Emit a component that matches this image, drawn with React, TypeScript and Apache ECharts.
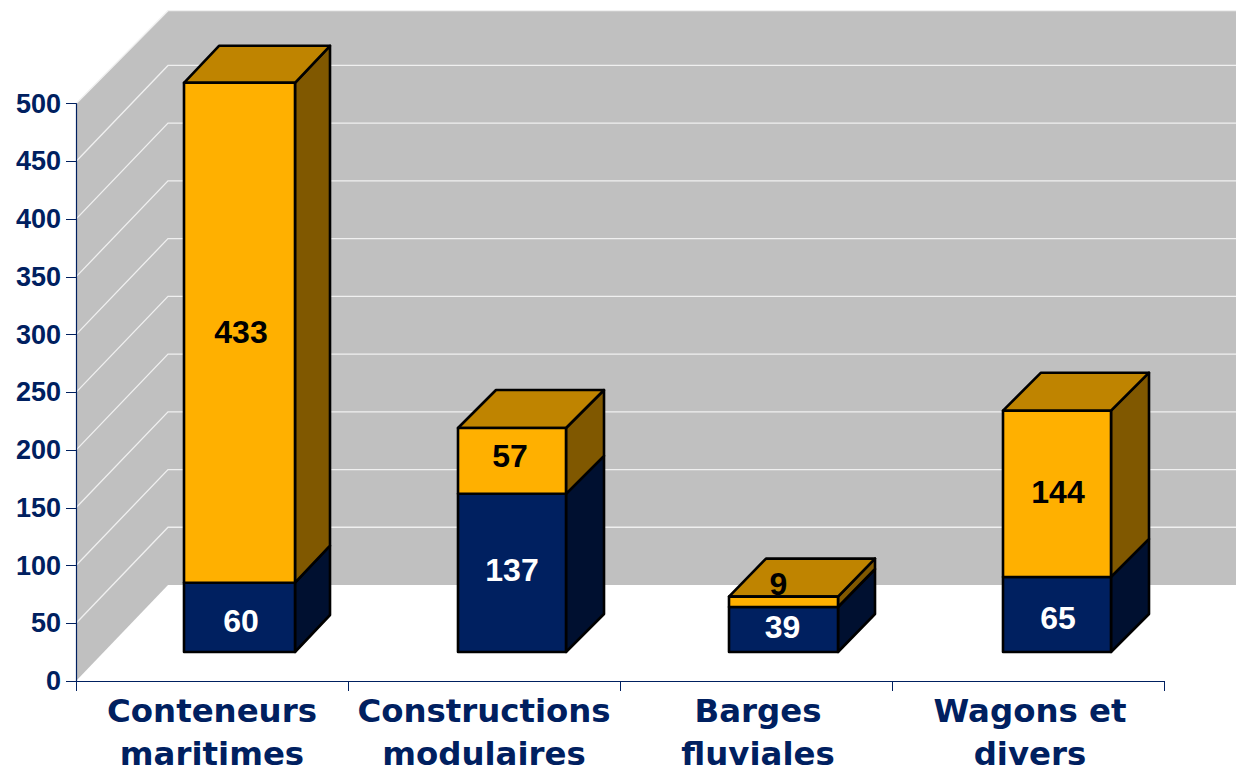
import React, { useEffect, useRef } from "react";
import * as echarts from "echarts";

const categories = ["Conteneurs\nmaritimes", "Constructions\nmodulaires", "Barges\nfluviales", "Wagons et\ndivers"];
const lowerValues = [60, 137, 39, 65];
const upperValues = [433, 57, 9, 144];
const gridValues = [50, 100, 150, 200, 250, 300, 350, 400, 450, 500];

const NAVY = "#002060";
const WALL = "#c0c0c0";
const GRID_LINE = "#f0f0f0";

const lowerFaces = { front: "#002060", side: "#001030", top: "#001848" };
const upperFaces = { front: "#ffb000", side: "#805800", top: "#bf8400" };

// drawing tweaks, in pixels, per category
const barLeft = [-28, -26, -27, -25];
const barRight = [83, 82, 82, 83];
const depthX = [35, 38, 37, 38];
const depthY = [37, 38, 38, 38];
const lowerNudge = [[1.5, 4], [0, -3], [-1, -2], [1, 4]];
const upperNudge = [[1.5, -1], [-2, -5], [-5, -18], [1, -2]];
const shiftedLabels = ["Barges\nfluviales", "Wagons et\ndivers"];

const FLOOR_LIFT = 29;
const WALL_DX = 92;
const WALL_DY = 96;
const WALL_TOP = 10.7;

function wallY(frontY: number) {
  return Math.max(WALL_TOP, frontY - WALL_DY);
}

function makeBarRenderer(faces: { front: string; side: string; top: string }, nudge: number[][], labelColor: string, withTop: boolean) {
  return (_params: any, api: any) => {
    const i = api.value(0);
    const from = api.value(1);
    const to = api.value(2);
    const cx = api.coord([i, 0])[0];
    const yFrom = api.coord([i, from])[1] - FLOOR_LIFT;
    const yTo = api.coord([i, to])[1] - FLOOR_LIFT;
    const l = cx + barLeft[i];
    const r = cx + barRight[i];
    const dx = depthX[i];
    const dy = depthY[i];
    const edge = { stroke: "#000", lineWidth: 2.6, lineJoin: "round" };
    const children: any[] = [
      { type: "polygon", shape: { points: [[r, yFrom], [r + dx, yFrom - dy], [r + dx, yTo - dy], [r, yTo]] }, style: { fill: faces.side, ...edge } },
    ];
    if (withTop) {
      children.push({ type: "polygon", shape: { points: [[l, yTo], [l + dx, yTo - dy], [r + dx, yTo - dy], [r, yTo]] }, style: { fill: faces.top, ...edge } });
    }
    children.push({ type: "polygon", shape: { points: [[l, yFrom], [r, yFrom], [r, yTo], [l, yTo]] }, style: { fill: faces.front, ...edge } });
    children.push({
      type: "text",
      z2: 100,
      style: {
        text: String(to - from),
        x: (l + r) / 2 + nudge[i][0],
        y: (yFrom + yTo) / 2 + nudge[i][1],
        fill: labelColor,
        font: 'bold 32px "Liberation Sans"',
        align: "center",
        verticalAlign: "middle",
      },
    });
    return { type: "group", children };
  };
}

export default function App() {
  const ref = useRef<HTMLDivElement>(null);
  useEffect(() => {
    document.body.style.margin = "0";
    document.body.style.overflow = "hidden";
    const chart = echarts.init(ref.current!, null, { renderer: "svg" });
    const lowerData = categories.map((_, i) => [i, 0, lowerValues[i]]);
    const upperData = categories.map((_, i) => [i, lowerValues[i], lowerValues[i] + upperValues[i]]);
    const labelFont = { color: NAVY, fontFamily: "DejaVu Sans", fontWeight: "bold", fontSize: 32.4, lineHeight: 43 };
    chart.setOption({
      animation: false,
      backgroundColor: "#ffffff",
      grid: { left: 76, top: 103.7, width: 1088, height: 577.3, outerBoundsMode: "none", containLabel: false },
      xAxis: {
        type: "category",
        data: categories,
        boundaryGap: true,
        z: 5,
        axisLine: { show: true, lineStyle: { color: NAVY, width: 1.2 } },
        axisTick: { show: true, alignWithLabel: false, length: 10, lineStyle: { color: NAVY, width: 1 } },
        axisLabel: {
          interval: 0,
          margin: 8.5,
          ...labelFont,
          formatter: (v: string) =>
            shiftedLabels.includes(v)
              ? v.split("\n").map((line) => `{s|${line}}`).join("\n")
              : v,
          rich: { s: { ...labelFont, padding: [0, 0, 0, 4] } },
        },
      },
      yAxis: {
        type: "value",
        min: 0,
        max: 500,
        interval: 50,
        z: 5,
        axisLine: { show: true, lineStyle: { color: NAVY, width: 1.2 } },
        axisTick: { show: true, length: 10, lineStyle: { color: NAVY, width: 1 } },
        axisLabel: {
          color: NAVY,
          margin: 15,
          fontFamily: "Liberation Sans",
          fontWeight: "bold",
          fontSize: 27,
        },
        splitLine: { show: false },
      },
      series: [
        {
          type: "custom",
          name: "walls",
          z: 1,
          silent: true,
          data: [[0, 0, 500]],
          renderItem: (params: any, api: any) => {
            const x0 = params.coordSys.x;
            const x1 = x0 + WALL_DX;
            const y0 = api.coord([0, api.value(1)])[1];
            const yTop = api.coord([0, api.value(2)])[1];
            const fill = { fill: WALL };
            return {
              type: "group",
              children: [
                { type: "polygon", shape: { points: [[x0, y0], [x1, wallY(y0)], [x1, wallY(yTop)], [x0, yTop]] }, style: fill },
                { type: "polygon", shape: { points: [[x1, wallY(y0)], [1240, wallY(y0)], [1240, wallY(yTop)], [x1, wallY(yTop)]] }, style: fill },
              ],
            };
          },
        },
        {
          type: "custom",
          name: "gridlines",
          z: 2,
          silent: true,
          data: gridValues.map((v) => [0, v]),
          renderItem: (params: any, api: any) => {
            const x0 = params.coordSys.x;
            const x1 = x0 + WALL_DX;
            const y = api.coord([0, api.value(1)])[1];
            const by = wallY(y);
            return {
              type: "polyline",
              shape: { points: [[x0, y], [x1, by], [1240, by]] },
              style: { fill: "none", stroke: GRID_LINE, lineWidth: 1.3 },
            };
          },
        },
        { type: "custom", name: "lower", z: 3, silent: true, data: lowerData, renderItem: makeBarRenderer(lowerFaces, lowerNudge, "#ffffff", false) },
        { type: "custom", name: "upper", z: 4, silent: true, data: upperData, renderItem: makeBarRenderer(upperFaces, upperNudge, "#000000", true) },
      ],
    });
    return () => chart.dispose();
  }, []);
  return <div ref={ref} style={{ position: "fixed", left: 0, top: 0, width: 1236, height: 768 }} />;
}
